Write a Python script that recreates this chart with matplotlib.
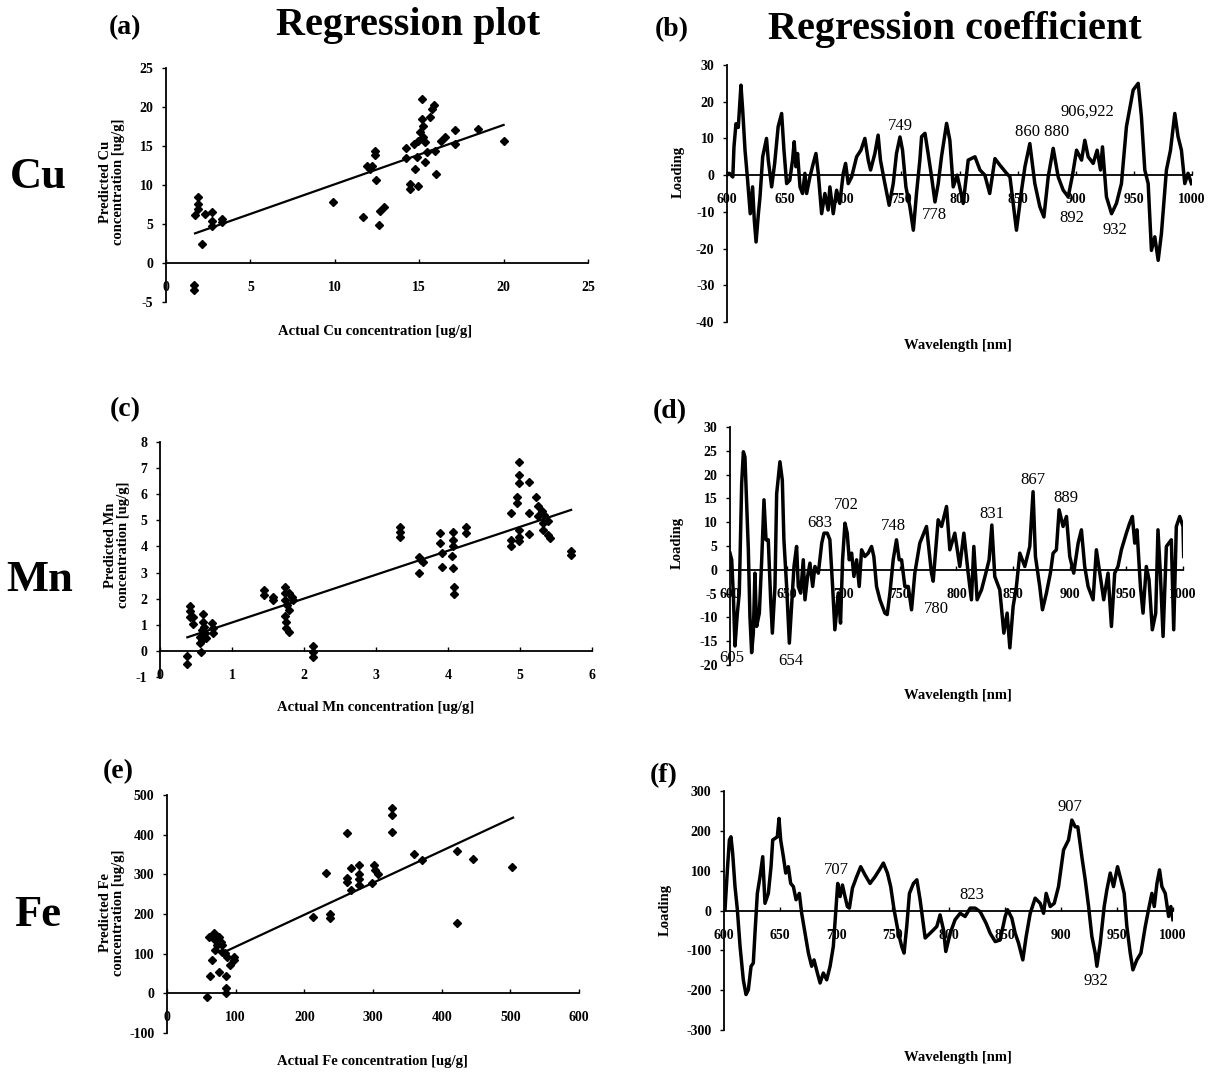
import matplotlib
matplotlib.use("Agg")
import matplotlib.pyplot as plt

plt.rcParams['font.family'] = ['Liberation Serif', 'DejaVu Serif']
plt.rcParams['axes.unicode_minus'] = False

W, H = 1216, 1074

# ---------------- data ----------------
# Cu regression plot
cu_actual = [1.72, 1.92, 1.92, 1.92, 2.11, 2.31, 2.7, 2.7, 2.7, 3.3, 3.3, 9.87, 11.65, 11.9, 12.1, 12.2,
             12.4, 12.4, 12.45, 12.64, 12.7, 12.9, 14.2, 14.2, 14.45, 14.45, 14.7, 14.75, 14.85, 14.95,
             14.95, 15.05, 15.15, 15.15, 15.2, 15.25, 15.35, 15.35, 15.45, 15.65, 15.75, 15.85, 15.95,
             16.0, 16.3, 16.5, 17.1, 17.1, 18.5, 20.0, 1.66, 1.66]
cu_pred = [6.1, 8.4, 7.6, 6.9, 2.4, 6.3, 6.5, 5.4, 4.8, 5.6, 5.2, 7.8, 5.9, 12.5, 12.1, 12.5,
           14.4, 13.8, 10.7, 4.9, 6.7, 7.2, 14.7, 13.4, 10.1, 9.5, 15.3, 12.1, 13.6, 9.9,
           15.7, 16.8, 21.0, 18.5, 16.1, 17.6, 12.9, 15.5, 14.2, 18.7, 19.8, 20.2, 14.4,
           11.4, 15.7, 16.1, 17.0, 15.3, 17.2, 15.7, -2.8, -3.5]
cu_fit_x = [1.72, 20.0]
cu_fit_y = [3.8, 17.7]

# Mn regression plot
mn_actual = [0.38, 0.38, 0.42, 0.42, 0.42, 0.46, 0.46, 0.57, 0.56, 0.56, 0.58, 0.6, 0.6, 0.61, 0.62,
             0.64, 0.58, 0.72, 0.74, 0.74, 1.44, 1.44, 1.57, 1.57, 1.73, 1.73, 1.73, 1.73, 1.75, 1.75,
             1.79, 1.79, 1.79, 1.83, 1.85, 1.77, 2.13, 2.13, 2.13, 3.34, 3.34, 3.34, 3.6, 3.6, 3.63,
             3.65, 3.89, 3.89, 3.91, 3.91, 4.07, 4.07, 4.07, 4.05, 4.07, 4.09, 4.09, 4.25, 4.25, 4.88,
             4.88, 4.88, 4.96, 4.96, 4.99, 4.99, 4.99, 4.99, 4.99, 4.99, 5.12, 5.12, 5.12, 5.22, 5.25,
             5.25, 5.3, 5.32, 5.34, 5.32, 5.39, 5.39, 5.41, 5.71, 5.71]
mn_pred = [-0.19, -0.51, 1.72, 1.53, 1.29, 1.29, 1.02, -0.03, 0.29, 0.55, 0.8, 1.4, 1.12, 0.93, 0.68,
           0.49, 0.42, 1.06, 0.87, 0.68, 2.34, 2.15, 2.08, 1.93, 2.46, 2.21, 1.95, 1.32, 1.12, 0.87,
           2.21, 1.57, 0.74, 2.08, 1.95, 1.76, 0.2, -0.03, -0.24, 4.74, 4.57, 4.38, 3.61, 3.0, 3.49,
           3.42, 4.51, 4.15, 3.74, 3.23, 4.57, 4.25, 4.0, 3.64, 3.19, 2.46, 2.17, 4.76, 4.53, 5.27,
           4.0, 4.25, 5.91, 5.66, 7.25, 6.74, 6.42, 4.64, 4.38, 4.19, 6.45, 5.27, 4.48, 5.91, 5.53,
           5.15, 5.34, 4.89, 5.21, 4.64, 4.96, 4.44, 4.32, 3.84, 3.68]
mn_fit_x = [0.38, 5.71]
mn_fit_y = [0.52, 5.40]

# Fe regression plot
fe_actual = [58, 62, 61, 65, 68, 70, 73, 70, 75, 78, 75, 80, 80, 85, 87, 86, 86, 86, 92, 98, 98,
             212, 232, 237, 237, 262, 262, 262, 268, 268, 280, 280, 280, 280, 298, 301, 303, 308,
             327, 327, 327, 359, 372, 422, 422, 445, 503]
fe_pred = [-8, 44, 143, 84, 151, 134, 122, 109, 143, 130, 55, 122, 105, 101, 92, 44, 13, 0, 71, 92, 84,
           193, 304, 200, 191, 404, 292, 281, 315, 260, 323, 302, 289, 273, 277, 323, 310, 302,
           468, 449, 407, 352, 336, 359, 178, 338, 319]
fe_fit_x = [87, 504]
fe_fit_y = [107, 443]

# Regression coefficients (wavelength nm, loading)
coef_cu = [(600, 0), (602, 0.5), (605, -0.5), (606, 7.7), (607.7, 14), (609.7, 13), (612, 24.5),
           (613.5, 17.7), (615.5, 6.8), (617.5, -0.5), (620, -10.5), (622, -3.2), (623.5, -12.3),
           (625, -18.2), (627, -10.5), (628.4, -5.9), (630.7, 5), (634, 10), (635.5, 4.1),
           (638.4, -3.2), (641, 3.2), (644, 13.2), (647, 16.8), (649, 6.8), (651.3, -2.3),
           (654, -1.4), (656.4, 4.1), (657.8, 9.1), (659.3, 2.3), (660.7, 5.9), (662.8, -3.2),
           (665, -5), (667, 0.5), (668.5, -5), (671.3, -0.5), (674.2, 3.2), (676.5, 5.9),
           (678.5, 0.5), (681.4, -10.5), (684.2, -5), (687, -9.5), (688.5, -3.2), (691.4, -10.5),
           (694.3, -4.1), (697, -7.7), (700, 0.5), (702, 3.2), (704.3, -2.3), (707.2, -0.5),
           (711.5, 5), (715.2, 6.8), (718.6, 10), (721.5, 4.1), (723.5, 1.4), (727.2, 5.9),
           (730, 10.9), (732, 4.1), (735.8, -2.3), (739.5, -8.2), (743, -2.3), (745.8, 5.9),
           (748.8, 10.4), (751, 6.8), (753.9, -3.2), (757.3, -8.6), (760.3, -15), (763, -5),
           (765.9, 4.1), (767.4, 10.5), (770.3, 11.4), (773, 5.9), (776, -0.5), (778.9, -7.3),
           (781.7, -2.3), (784.5, 5), (788.9, 14.1), (791.7, 9.5), (794.6, -3.2), (798, 0),
           (803.2, -7.7), (807.5, 4.1), (813.3, 5), (817.6, 1.4), (821.8, 0), (826, -5),
           (830.5, 4.5), (834.8, 2.7), (840.5, 0.5), (843.4, -0.5), (849, -15), (853.4, -4.1),
           (856.3, 2.3), (860.5, 8.6), (864.8, -2.3), (869.1, -8.6), (872.6, -11.4), (876.3, -0.5),
           (880.6, 7.3), (884.9, -0.5), (889.2, -4.1), (893.5, -5.9), (897.2, 0), (900.7, 6.8),
           (905, 4.1), (907.8, 9.5), (910.7, 5), (915, 3.2), (918.4, 6.8), (921.3, 1.4), (923, 7.7),
           (926.4, -5.9), (930.8, -10.5), (935, -7.7), (939.3, -2.3), (943.6, 13.2), (949.4, 23.2),
           (953.7, 25), (956.5, 15.9), (959.4, 1.4), (962.3, -2.3), (965.1, -20.5), (968, -16.8),
           (970.9, -23.2), (973.7, -15.9), (976.6, -4.1), (978, 1.4), (981.5, 6.8), (985.2, 16.8),
           (988, 10.5), (990.9, 6.8), (993.8, -2.3), (996.6, 0.5), (999.5, -2.3)]

coef_mn = [(600, 3.5), (601.5, 2.1), (603, -5.6), (604.4, -16), (606.5, -9.1), (608.2, -4.9),
           (610.3, 18.1), (611.8, 24.8), (613.2, 23.7), (614.7, 14), (616.2, 4.2), (617.6, -9.8),
           (619.1, -17.4), (620.6, -13.3), (622, -0.7), (623.5, -11.9), (625.9, -9.1), (628, 2.1),
           (630, 14.7), (631.8, 6.3), (633.8, 6.3), (635.9, -6.3), (637.4, -13.3), (639.7, -3.5),
           (641.2, 16), (644.1, 22.7), (646.2, 18.8), (647.6, 6.3), (650, -3.5), (652.4, -15.4),
           (654.4, -7.7), (656.5, 0.7), (658.8, 4.9), (660.3, -3.5), (662.4, -4.9), (664.7, 2.1),
           (666.2, -6.3), (668.5, -1.4), (670.6, 1.4), (673, -3.5), (675, 0.7), (678, -0.7),
           (681, 5.6), (683, 7.7), (685.9, 7.7), (688.2, 6.3), (690.6, -3.5), (692.6, -12.6),
           (695.6, -4.9), (697.6, -11.2), (699.4, 2.1), (701.5, 9.8), (703.5, 7.7), (705.3, 2.1),
           (707.4, 3.5), (709.4, -1.4), (711.8, 2.1), (714.1, -3.5), (716.2, 4.2), (719.1, 2.8),
           (722, 3.5), (725, 4.9), (727, 2.8), (729.4, -3.5), (732.4, -6.3), (736.8, -9.1),
           (738.8, -9.4), (741.2, -4.9), (744.1, 2.1), (747, 6.3), (749.4, 2.1), (751.5, 2.1),
           (754.4, -3.5), (757.4, -3.5), (760.3, -8.4), (763.2, -0.7), (767.6, 5.6), (773.5, 9.1),
           (777.9, -0.7), (779.4, -2.4), (783.8, 10.5), (786.8, 9.1), (791.2, 13.3), (794.1, 4.2),
           (798.5, 7.7), (802.9, 0.7), (806.5, 7.7), (810.3, -0.7), (813.2, -6.3), (815.3, 4.9),
           (818.2, -6.3), (822.1, -4.2), (825.9, -0.7), (828.8, 2.1), (831.2, 9.4), (833.8, -1.4),
           (838.2, -4.2), (841.8, -13.3), (844.7, -9.1), (847.1, -16.4), (850, -7.7), (852.9, -3.5),
           (855.9, 3.5), (860.3, 0.7), (864.7, 4.9), (867.6, 16.4), (869.7, 2.8), (873.5, -3.5),
           (875.9, -8.4), (879.4, -4.9), (882.9, -0.7), (885.3, 3.5), (888.2, 4.2), (890.6, 12.6),
           (894.1, 9.1), (897.1, 11.2), (900, 2.8), (903.5, -0.7), (907.4, 5.6), (910.3, 8.4),
           (913.2, 0.7), (916.2, -3.5), (920.6, -6.3), (923.5, 4.2), (926.5, -0.7), (930, -6.3),
           (933.8, -0.7), (936.8, -11.9), (939.7, -0.7), (942.6, 0.7), (945.6, 4.2), (950, 7.7),
           (952.9, 9.8), (955.3, 11.2), (957.4, 5.6), (959.4, 8.4), (962.4, -3.5), (964.7, -9.1),
           (967.6, 0.7), (970, -2.1), (972.9, -12.6), (975.9, -9.1), (977.9, 8.4), (980, -0.7),
           (982.4, -14), (985.3, 4.9), (989.7, 6.3), (991.8, -12.6), (994.1, 9.1), (997.1, 11.2),
           (1000, 9.1), (1000.6, 2.8)]

coef_fe = [(600.9, 2), (603, 102), (604.8, 177), (606.2, 185), (607.7, 144), (609.8, 60), (611.9, 2),
           (614.3, -90), (617.2, -174), (619.6, -211), (621.7, -199), (624.1, -140), (626.1, -132),
           (627.6, -57), (629.7, 43), (632.1, 85), (634.5, 135), (636.5, 18), (639.5, 43),
           (641.9, 110), (643.4, 177), (645.5, 181), (647.5, 185), (649, 231), (650.5, 177),
           (652.9, 135), (655, 94), (657.3, 110), (659.4, 68), (661.8, 60), (664.2, 27), (667.1, 43),
           (669.2, -7), (672.2, -57), (675.2, -107), (678.1, -140), (680.2, -124), (683.2, -157),
           (685.6, -182), (688.5, -157), (691.5, -174), (694.5, -140), (697.4, -90), (699.5, -7),
           (701.3, 68), (703.4, 35), (705.5, 64), (707.8, 35), (709.9, 10), (711.7, 6), (714.4, 56),
           (718.2, 85), (721.8, 110), (725.7, 89), (730.1, 68), (734.6, 85), (738.4, 102), (742, 119),
           (745.6, 94), (748.5, 60), (751.5, 2), (755.4, -57), (758.3, -90), (760.4, -107),
           (762.8, -40), (765.2, 43), (768.8, 68), (771.8, 77), (774.7, 27), (779.2, -69),
           (785.1, -53), (789.6, -40), (792.5, -11), (795.5, -48), (797.6, -103), (801.5, -57),
           (805.9, -23), (810.4, -7), (814.8, -15), (819.3, 6), (823.7, 6), (828.2, -3), (833.5, -32),
           (837.1, -57), (841.6, -78), (846, -74), (850.5, -15), (852.6, 2), (856.4, -19), (859.4, -57),
           (862.4, -82), (866.2, -124), (869.2, -65), (872.8, -7), (877.2, 31), (881.7, 18),
           (884.7, -7), (887, 43), (890.6, 10), (894.2, 18), (898, 60), (902.5, 152), (906.9, 177),
           (909.9, 227), (912.9, 210), (915.2, 210), (918.8, 135), (921.8, 77), (924.8, 10),
           (927.7, -65), (930.7, -107), (932.2, -140), (935.2, -82), (938.7, 10), (941.1, 52),
           (944.1, 94), (947, 60), (950.6, 110), (953.6, 77), (956.5, 43), (958.9, -40), (961.9, -107),
           (964.3, -149), (967.8, -124), (971.4, -107), (975.3, -40), (978.2, 2), (981.2, 43),
           (983.3, 10), (985.7, 68), (988, 102), (990.1, 60), (993.1, 43), (996.1, -15), (998.1, 10),
           (999.9, -23)]

# peak annotations (label, wavelength position, loading position)
ann_cu = [("749", 748.8, 13.4), ("778", 778.8, -10.9), ("860 880", 870.6, 11.8),
          ("906,922", 910.4, 17.3), ("892", 896.6, -11.7), ("932", 933.6, -15.0)]
ann_mn = [("683", 679.4, 9.8), ("702", 703.0, 13.6), ("748", 744.1, 9.2), ("605", 601.5, -18.5),
          ("654", 653.6, -19.2), ("780", 782.4, -8.2), ("831", 831.0, 11.7), ("867", 867.2, 18.8),
          ("889", 896.3, 15.0)]
ann_fe = [("707", 700.4, 102), ("823", 820.8, 39), ("907", 908.4, 259), ("932", 931.5, -176)]

wl_ticks = [600, 650, 700, 750, 800, 850, 900, 950, 1000]

# ---------------- figure ----------------
fig = plt.figure(figsize=(W / 100, H / 100), dpi=100)


def px_axes(left, right, top, bottom):
    return fig.add_axes([left / W, 1 - bottom / H, (right - left) / W, (bottom - top) / H])


def style(ax, xlim, ylim, xticks, yticks):
    ax.set_xlim(*xlim)
    ax.set_ylim(*ylim)
    ax.spines['top'].set_visible(False)
    ax.spines['right'].set_visible(False)
    ax.spines['bottom'].set_position(('data', 0))
    ax.spines['left'].set_linewidth(1.3)
    ax.spines['bottom'].set_linewidth(1.3)
    ax.set_xticks(xticks)
    ax.set_yticks(yticks)
    ax.tick_params(axis='x', direction='in', length=3, width=1, pad=13, labelsize=10)
    ax.tick_params(axis='y', direction='out', length=3, width=1, pad=6, labelsize=10)
    for lab in ax.get_xticklabels() + ax.get_yticklabels():
        lab.set_fontweight('bold')
    ax.patch.set_alpha(0)


def ftext(x, y, s, **kw):
    fig.text(x / W, 1 - y / H, s, **kw)


def scatter_panel(ax, xs, ys, fx, fy):
    ax.plot(xs, ys, linestyle='none', marker='D', markersize=4.2, color='black', clip_on=False, zorder=3)
    ax.plot(fx, fy, color='black', linewidth=1.6, zorder=2)


def coef_panel(ax, pts, anns):
    xs = [p[0] for p in pts]
    ys = [p[1] for p in pts]
    ax.plot(xs, ys, color='black', linewidth=2.5, solid_joinstyle='round', zorder=3)
    for s, x, y in anns:
        ax.text(x, y, s, ha='center', va='center', fontsize=12, zorder=4)


# (a) Cu regression
ax_a = px_axes(166, 588, 68, 302)
scatter_panel(ax_a, cu_actual, cu_pred, cu_fit_x, cu_fit_y)
style(ax_a, (0, 25), (-5, 25), [0, 5, 10, 15, 20, 25], [-5, 0, 5, 10, 15, 20, 25])

# (b) Cu coefficients
ax_b = px_axes(727, 1192, 65, 322)
coef_panel(ax_b, coef_cu, ann_cu)
style(ax_b, (600, 1000), (-40, 30), wl_ticks, [-40, -30, -20, -10, 0, 10, 20, 30])

# (c) Mn regression
ax_c = px_axes(160, 592, 442, 677)
scatter_panel(ax_c, mn_actual, mn_pred, mn_fit_x, mn_fit_y)
style(ax_c, (0, 6), (-1, 8), [0, 1, 2, 3, 4, 5, 6], [-1, 0, 1, 2, 3, 4, 5, 6, 7, 8])

# (d) Mn coefficients
ax_d = px_axes(730, 1183, 427, 665)
coef_panel(ax_d, coef_mn, ann_mn)
style(ax_d, (600, 1000), (-20, 30), wl_ticks, [-20, -15, -10, -5, 0, 5, 10, 15, 20, 25, 30])

# (e) Fe regression
ax_e = px_axes(167, 579, 795, 1033)
scatter_panel(ax_e, fe_actual, fe_pred, fe_fit_x, fe_fit_y)
style(ax_e, (0, 600), (-100, 500), [0, 100, 200, 300, 400, 500, 600], [-100, 0, 100, 200, 300, 400, 500])

# (f) Fe coefficients
ax_f = px_axes(724, 1173, 791, 1030)
coef_panel(ax_f, coef_fe, ann_fe)
style(ax_f, (600, 1000), (-300, 300), wl_ticks, [-300, -200, -100, 0, 100, 200, 300])

# axis labels
lab_kw = dict(fontsize=10.5, fontweight='bold', ha='center', va='center')
ftext(375, 332, 'Actual Cu concentration [ug/g]', **lab_kw)
ftext(376, 707, 'Actual Mn concentration [ug/g]', **lab_kw)
ftext(372, 1062, 'Actual Fe concentration [ug/g]', **lab_kw)
ftext(112, 182, 'Predicted Cu\nconcentration [ug/g]', rotation=90, linespacing=1.0, **lab_kw)
ftext(117, 545, 'Predicted Mn\nconcentration [ug/g]', rotation=90, linespacing=1.0, **lab_kw)
ftext(112, 913, 'Predicted Fe\nconcentration [ug/g]', rotation=90, linespacing=1.0, **lab_kw)
for y in (345, 695, 1058):
    ftext(958, y, 'Wavelength [nm]', **lab_kw)
ftext(678, 172, 'Loading', rotation=90, **lab_kw)
ftext(677, 543, 'Loading', rotation=90, **lab_kw)
ftext(665, 910, 'Loading', rotation=90, **lab_kw)

# titles and panel letters
ftext(408, 26, 'Regression plot', fontsize=29, fontweight='bold', ha='center', va='center')
ftext(955, 29, 'Regression coefficient', fontsize=29, fontweight='bold', ha='center', va='center')
big = dict(fontsize=20, fontweight='bold', ha='center', va='center')
ftext(125, 28, '(a)', **big)
ftext(672, 30, '(b)', **big)
ftext(125, 410, '(c)', **big)
ftext(670, 412, '(d)', **big)
ftext(118, 772, '(e)', **big)
ftext(664, 776, '(f)', **big)

row = dict(fontsize=32, fontweight='bold', ha='center', va='center')
ftext(38, 177, 'Cu', **row)
ftext(40, 580, 'Mn', **row)
ftext(38, 915, 'Fe', **row)

fig.savefig('out.png', dpi=100)
